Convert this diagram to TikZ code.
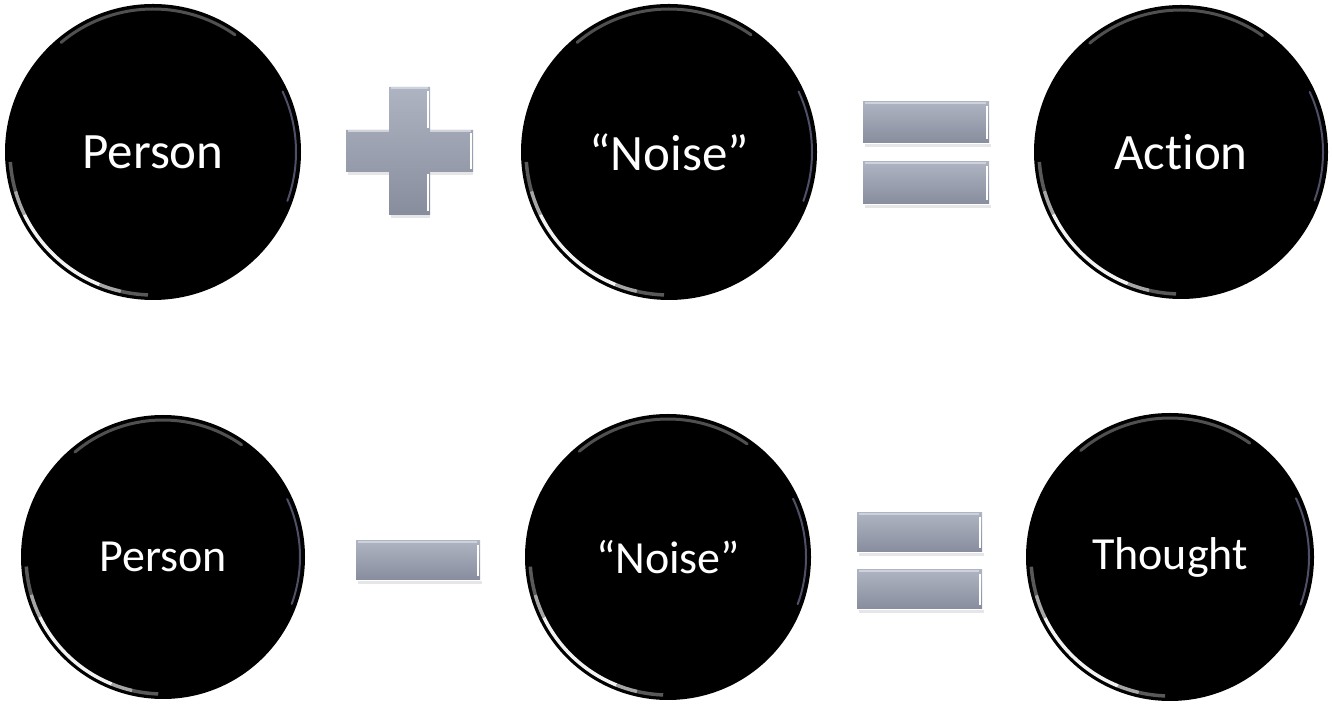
\documentclass[tikz,border=0pt]{standalone}
\usepackage{fontspec}
\setmainfont{Carlito}[Ligatures={NoCommon,NoContextual}]
\definecolor{barTop}{HTML}{AEB4C2}
\definecolor{barBot}{HTML}{878D9C}
\definecolor{barEdge}{HTML}{CDD2DC}
\definecolor{barShadow}{HTML}{E6E6E8}
\tikzset{
  ball/.style={circle, fill=black, text=white, inner sep=0pt},
  bigtxt/.style={font=\fontsize{51}{60}\selectfont},
  smalltxt/.style={font=\fontsize{46}{55}\selectfont},
  bar/.style={top color=barTop, bottom color=barBot, draw=none},
  rimlight/.style={white, line width=3.5pt, line cap=butt},
  rimtop/.style={gray!60, line width=3pt, opacity=0.45, line cap=round},
  rimright/.style={blue!25!gray!70, line width=2pt, opacity=0.55, line cap=round},
  bevelhi/.style={white, line width=2pt},
  beveltop/.style={barEdge, line width=1.5pt},
  shadowline/.style={barShadow, line width=3pt},
}
\newcommand\ballrim[2]{%
  \foreach \sa/\ea/\op in {184/196/0.35,196/206/0.65,206/248/0.95,248/257/0.65,257/268/0.35}{
    \draw[rimlight, opacity=\op] (#1.center) ++(\sa:#2) arc[start angle=\sa, end angle=\ea, radius=#2];
  }
  \draw[rimtop] (#1.center) ++(55:#2) arc[start angle=55, end angle=130, radius=#2];
  \draw[rimright] (#1.center) ++(-20:#2) arc[start angle=-20, end angle=25, radius=#2];
}
\newcommand\barbevel[1]{%
  \draw[shadowline] ([xshift=2pt,yshift=-2pt]#1.south west) -- ([xshift=2pt,yshift=-2pt]#1.south east);
  \draw[beveltop] ([xshift=2pt,yshift=-1pt]#1.north west) -- ([xshift=-3pt,yshift=-1pt]#1.north east);
  \draw[bevelhi] ([xshift=-2pt,yshift=-4pt]#1.north east) -- ([xshift=-2pt,yshift=4pt]#1.south east);
}
\begin{document}
\begin{tikzpicture}[x=1pt,y=1pt]
  \fill[white] (0,0) rectangle (1333,709);
  \useasboundingbox (0,0) rectangle (1333,709);

  % top row
  \node[ball, bigtxt, minimum size=296pt] (p1) at (153,557) {Person};
  \node[ball, bigtxt, minimum size=296pt] (n1) at (669,557) {“Noise”};
  \node[ball, bigtxt, minimum size=294pt] (a1) at (1181,557) {Action};
  \ballrim{p1}{143pt}
  \ballrim{n1}{143pt}
  \ballrim{a1}{142pt}

  % plus sign
  \draw[shadowline] (348,535) -- (473,535);
  \draw[shadowline] (391,492) -- (430,492);
  \path[bar] (389,622) -- (430,622) -- (430,579) -- (473,579) -- (473,537)
    -- (430,537) -- (430,494) -- (389,494) -- (389,537) -- (346,537)
    -- (346,579) -- (389,579) -- cycle;
  \draw[beveltop] (391,621) -- (428,621);
  \draw[beveltop] (348,578) -- (389,578);
  \draw[beveltop] (430,578) -- (471,578);
  \draw[bevelhi] (428,618) -- (428,581);
  \draw[bevelhi] (471,576) -- (471,540);
  \draw[bevelhi] (428,535) -- (428,498);
  \coordinate (plus) at (409.5,558);

  % equals top
  \node[bar, minimum width=126pt, minimum height=41pt, inner sep=0pt] (e1a) at (926,586.5) {};
  \node[bar, minimum width=126pt, minimum height=42pt, inner sep=0pt] (e1b) at (926,526) {};
  \barbevel{e1a}
  \barbevel{e1b}

  % bottom row
  \node[ball, smalltxt, minimum size=284pt] (p2) at (163,152) {Person};
  \node[ball, smalltxt, minimum size=286pt] (n2) at (668,152) {“Noise”};
  \node[ball, smalltxt, minimum size=288pt] (t2) at (1170,152) {Thought};
  \ballrim{p2}{137pt}
  \ballrim{n2}{138pt}
  \ballrim{t2}{139pt}

  % minus
  \node[bar, minimum width=124pt, minimum height=39pt, inner sep=0pt] (m2) at (418,148.5) {};
  \barbevel{m2}

  % equals bottom
  \node[bar, minimum width=125pt, minimum height=39pt, inner sep=0pt] (e2a) at (919.5,176.5) {};
  \node[bar, minimum width=125pt, minimum height=39pt, inner sep=0pt] (e2b) at (919.5,119.5) {};
  \barbevel{e2a}
  \barbevel{e2b}
\end{tikzpicture}
\end{document}
